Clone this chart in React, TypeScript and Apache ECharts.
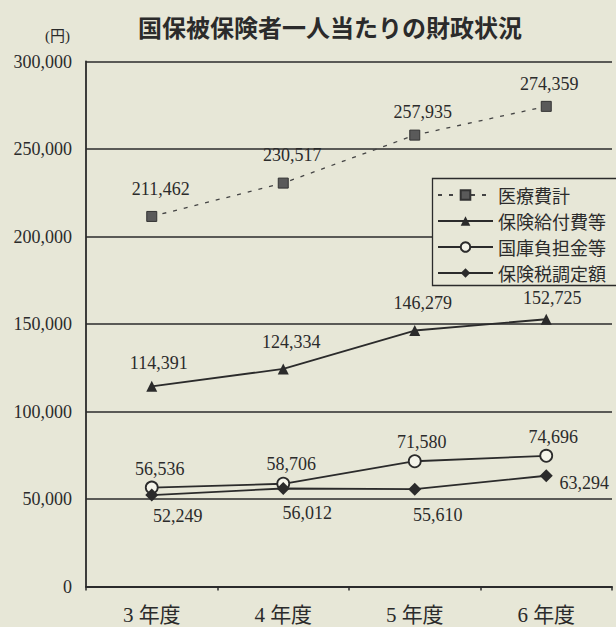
import React, { useEffect, useRef } from "react";
import * as echarts from "echarts";

const categories = ["3 年度", "4 年度", "5 年度", "6 年度"];
const seriesNames = ["医療費計", "保険給付費等", "国庫負担金等", "保険税調定額"];
const medicalCost = [211462, 230517, 257935, 274359];
const benefitCost = [114391, 124334, 146279, 152725];
const treasuryShare = [56536, 58706, 71580, 74696];
const taxAssessed = [52249, 56012, 55610, 63294];
const yTicks = { min: 0, max: 300000, interval: 50000 };

// label placement relative to each marker (pixels)
const medicalLabelOffsets = [[9, -27], [9, -28], [8, -23], [3, -22]];
const benefitLabelOffsets = [[7, -23], [8, -27], [8, -28], [6, -21]];
const treasuryLabelOffsets = [[8, -19], [8, -20], [7, -19], [7, -19]];
const taxLabelOffsets = [[26, 21], [24, 25], [23, 26], [38, 7]];

const INK = "#2b2b2b";
const BG = "#e7e7d7";
const NUM_FONT = "'Liberation Serif', 'DejaVu Serif', serif";
const JP_FONT = "'Noto Sans CJK JP', 'Noto Sans', sans-serif";

const fmt = (v: number) => v.toLocaleString("en-US");

function build(values: number[], offsets: number[][]) {
  return values.map((v, i) => ({ value: v, label: { offset: offsets[i] } }));
}

export default function App() {
  const ref = useRef<HTMLDivElement>(null);
  useEffect(() => {
    if (!ref.current) return;
    const chart = echarts.init(ref.current, null, { renderer: "svg" });
    const labelBase = {
      show: true,
      position: "inside",
      color: INK,
      fontFamily: NUM_FONT,
      fontSize: 18,
      formatter: (p: any) => fmt(p.value),
    };
    chart.setOption({
      animation: false,
      backgroundColor: BG,
      title: [
        {
          text: "国保被保険者一人当たりの財政状況",
          left: 325,
          top: 9,
          textAlign: "center",
          textStyle: { fontFamily: JP_FONT, fontSize: 24, fontWeight: "bold", color: INK },
        },
        {
          text: "(円)",
          left: 40,
          top: 23,
          textStyle: { fontFamily: NUM_FONT + ", " + JP_FONT, fontSize: 15, fontWeight: "normal", color: INK },
        },
      ],
      graphic: [
        {
          type: "rect",
          z: 3,
          shape: { x: 432.5, y: 178.5, width: 200, height: 107 },
          style: { fill: BG, stroke: INK, lineWidth: 1.3 },
        },
      ],
      legend: {
        left: 437,
        top: 186,
        orient: "vertical",
        padding: 0,
        itemWidth: 55,
        itemHeight: 12,
        itemGap: 8,
        z: 4,
        textStyle: { fontFamily: JP_FONT, fontSize: 18, color: INK },
        data: seriesNames,
      },
      grid: { left: 86, top: 61.5, width: 526, height: 525, containLabel: false },
      xAxis: {
        type: "category",
        data: categories,
        boundaryGap: true,
        axisLine: { lineStyle: { color: INK, width: 1.8 } },
        axisTick: { show: true, length: 4, lineStyle: { color: INK, width: 1.5 } },
        axisLabel: { color: INK, fontFamily: NUM_FONT + ", " + JP_FONT, fontSize: 21, margin: 18 },
        splitLine: { show: false },
      },
      yAxis: {
        type: "value",
        min: yTicks.min,
        max: yTicks.max,
        interval: yTicks.interval,
        axisLine: { show: true, lineStyle: { color: INK, width: 1.8 } },
        axisTick: { show: false },
        axisLabel: {
          color: INK,
          fontFamily: NUM_FONT,
          fontSize: 18,
          margin: 14,
          formatter: (v: number) => fmt(v),
        },
        splitLine: { show: true, lineStyle: { color: INK, width: 1.6 } },
      },
      series: [
        {
          name: seriesNames[0],
          type: "line",
          data: build(medicalCost, medicalLabelOffsets),
          symbol: "rect",
          symbolSize: 10,
          lineStyle: { color: "#444", width: 1.3, type: [4, 7] },
          itemStyle: { color: "#5a5a5a", borderColor: "#333", borderWidth: 1 },
          label: labelBase,
          z: 5,
        },
        {
          name: seriesNames[1],
          type: "line",
          data: build(benefitCost, benefitLabelOffsets),
          symbol: "triangle",
          symbolSize: 11,
          lineStyle: { color: INK, width: 1.8 },
          itemStyle: { color: INK },
          label: labelBase,
          z: 5,
        },
        {
          name: seriesNames[2],
          type: "line",
          data: build(treasuryShare, treasuryLabelOffsets),
          symbol: "circle",
          symbolSize: 12,
          lineStyle: { color: INK, width: 1.8 },
          itemStyle: { color: "#f4f4ea", borderColor: INK, borderWidth: 1.8 },
          label: labelBase,
          z: 5,
        },
        {
          name: seriesNames[3],
          type: "line",
          data: build(taxAssessed, taxLabelOffsets),
          symbol: "diamond",
          symbolSize: 13,
          lineStyle: { color: INK, width: 1.8 },
          itemStyle: { color: INK },
          label: labelBase,
          z: 6,
        },
      ],
    });
    return () => chart.dispose();
  }, []);
  return (
    <div
      ref={ref}
      style={{ position: "fixed", left: 0, top: 0, width: 616, height: 627 }}
    />
  );
}
